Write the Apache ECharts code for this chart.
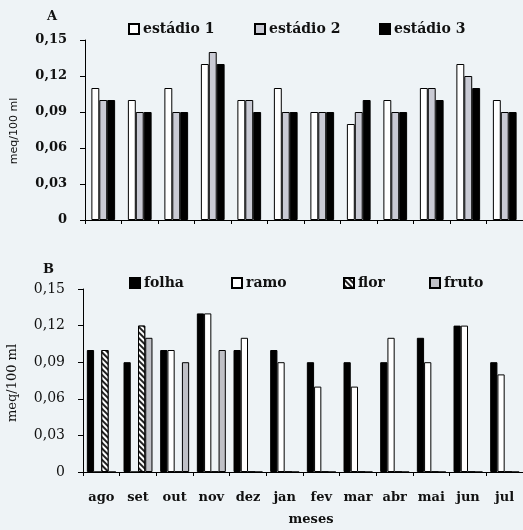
<!DOCTYPE html>
<html>
<head>
<meta charset="utf-8">
<script src="https://cdn.jsdelivr.net/npm/echarts@6/dist/echarts.min.js"></script>
<style>
html,body{margin:0;padding:0;background:#eef3f6;}
#c{width:523px;height:530px;}
</style>
</head>
<body>
<div id="c"></div>
<script>
const months = ['ago','set','out','nov','dez','jan','fev','mar','abr','mai','jun','jul'];
const yTicks = [0, 0.03, 0.06, 0.09, 0.12, 0.15];

// Panel A
const estadio1 = [0.11, 0.10, 0.11, 0.13, 0.10, 0.11, 0.09, 0.08, 0.10, 0.11, 0.13, 0.10];
const estadio2 = [0.10, 0.09, 0.09, 0.14, 0.10, 0.09, 0.09, 0.09, 0.09, 0.11, 0.12, 0.09];
const estadio3 = [0.10, 0.09, 0.09, 0.13, 0.09, 0.09, 0.09, 0.10, 0.09, 0.10, 0.11, 0.09];

// Panel B
const folha = [0.10, 0.09, 0.10, 0.13, 0.10, 0.10, 0.09, 0.09, 0.09, 0.11, 0.12, 0.09];
const ramo  = [0,    0,    0.10, 0.13, 0.11, 0.09, 0.07, 0.07, 0.11, 0.09, 0.12, 0.08];
const flor  = [0.10, 0.12, 0,    0,    0,    0,    0,    0,    0,    0,    0,    0];
const fruto = [0,    0.11, 0.09, 0.10, 0,    0,    0,    0,    0,    0,    0,    0];

const SERIF = '"DejaVu Serif", "Liberation Serif", serif';
const fmt = v => v === 0 ? '0' : v.toFixed(2).replace('.', ',');

const chart = echarts.init(document.getElementById('c'), null, {renderer: 'canvas'});

function yAxisCfg(grid, size, weight) {
  return {
    gridIndex: grid, type: 'value', min: 0, max: 0.15, interval: 0.03,
    axisLine: {show: true, lineStyle: {color: '#000', width: 1}},
    axisTick: {show: true, length: 5, lineStyle: {color: '#000'}},
    splitLine: {show: false},
    axisLabel: {fontFamily: SERIF, fontSize: size, fontWeight: weight, color: '#111', margin: 18, formatter: fmt}
  };
}
function xAxisCfg(grid, labels) {
  return {
    gridIndex: grid, type: 'category', data: months,
    axisLine: {show: true, lineStyle: {color: '#000', width: 1}},
    axisTick: {show: true, length: 4, lineStyle: {color: '#000'}},
    axisLabel: {show: labels, interval: 0, fontFamily: SERIF, fontSize: 13, fontWeight: 'bold', color: '#111', margin: 19}
  };
}
function legendItem(name, left, top) {
  return {
    data: [name], left: left, top: top, itemWidth: 10, itemHeight: 10, itemGap: 4,
    padding: 0, icon: 'rect',
    textStyle: {fontFamily: SERIF, fontSize: 14, fontWeight: 'bold', color: '#111', padding: [0,0,0,-1]}
  };
}

const hatch = {
  symbol: 'rect', symbolSize: 1, dashArrayX: [[1, 0]], dashArrayY: [2, 2],
  rotation: Math.PI / 4, color: '#222', backgroundColor: '#fff'
};

chart.setOption({
  backgroundColor: '#eef3f6',
  animation: false,
  grid: [
    {left: 85, top: 40, height: 180, width: 441},
    {left: 83, top: 289, height: 183, width: 443}
  ],
  xAxis: [xAxisCfg(0, false), xAxisCfg(1, true)],
  yAxis: [yAxisCfg(0, 13, 'bold'), yAxisCfg(1, 14, 'normal')],
  legend: [
    legendItem('estádio 1', 128, 22),
    legendItem('estádio 2', 254, 22),
    legendItem('estádio 3', 379, 22),
    legendItem('folha', 129, 276),
    legendItem('ramo', 231, 276),
    legendItem('flor', 343, 276),
    legendItem('fruto', 429, 276)
  ],
  graphic: [
    {type: 'text', left: 47, top: 10, style: {text: 'A', font: 'bold 13px ' + SERIF, fill: '#111'}},
    {type: 'text', left: 43, top: 263, style: {text: 'B', font: 'bold 13px ' + SERIF, fill: '#111'}},
    {type: 'text', x: 14, y: 131, rotation: Math.PI / 2,
      style: {text: 'meq/100 ml', font: '11px "DejaVu Sans", sans-serif', fill: '#111', align: 'center', verticalAlign: 'middle'}},
    {type: 'text', x: 13, y: 383, rotation: Math.PI / 2,
      style: {text: 'meq/100 ml', font: '13px ' + SERIF, fill: '#111', align: 'center', verticalAlign: 'middle'}},
    {type: 'text', x: 311, y: 520,
      style: {text: 'meses', font: 'bold 13px ' + SERIF, fill: '#111', align: 'center', verticalAlign: 'middle'}}
  ],
  series: [
    {name: 'estádio 1', type: 'bar', xAxisIndex: 0, yAxisIndex: 0, data: estadio1,
      barGap: '0%', barCategoryGap: '35%',
      itemStyle: {color: '#ffffff', borderColor: '#000', borderWidth: 1}},
    {name: 'estádio 2', type: 'bar', xAxisIndex: 0, yAxisIndex: 0, data: estadio2,
      barGap: '0%', barCategoryGap: '35%',
      itemStyle: {color: '#c9cad4', borderColor: '#000', borderWidth: 1}},
    {name: 'estádio 3', type: 'bar', xAxisIndex: 0, yAxisIndex: 0, data: estadio3,
      barGap: '0%', barCategoryGap: '35%',
      itemStyle: {color: '#000000', borderColor: '#000', borderWidth: 1}},
    {name: 'folha', type: 'bar', xAxisIndex: 1, yAxisIndex: 1, data: folha,
      barGap: '0%', barCategoryGap: '21%',
      itemStyle: {color: '#000000', borderColor: '#000', borderWidth: 1}},
    {name: 'ramo', type: 'bar', xAxisIndex: 1, yAxisIndex: 1, data: ramo,
      barGap: '0%', barCategoryGap: '21%',
      itemStyle: {color: '#ffffff', borderColor: '#000', borderWidth: 1}},
    {name: 'flor', type: 'bar', xAxisIndex: 1, yAxisIndex: 1, data: flor,
      barGap: '0%', barCategoryGap: '21%',
      itemStyle: {color: '#ffffff', borderColor: '#000', borderWidth: 1, decal: hatch}},
    {name: 'fruto', type: 'bar', xAxisIndex: 1, yAxisIndex: 1, data: fruto,
      barGap: '0%', barCategoryGap: '21%',
      itemStyle: {color: '#bfc0c6', borderColor: '#000', borderWidth: 1}}
  ]
});
</script>
</body>
</html>
